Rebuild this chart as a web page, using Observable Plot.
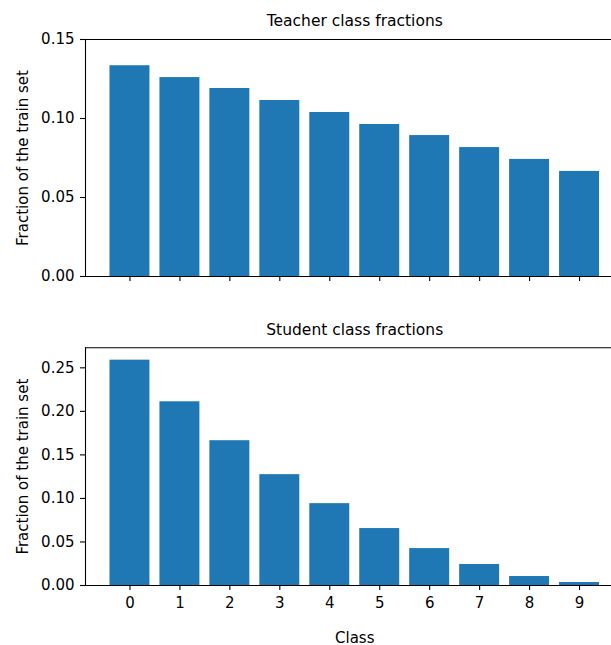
<!DOCTYPE html>
<html>
<head>
<meta charset="utf-8">
<script src="https://cdn.jsdelivr.net/npm/d3@7"></script>
<script src="https://cdn.jsdelivr.net/npm/@observablehq/plot@0.6"></script>
<style>
  html, body { margin: 0; padding: 0; background: #fff; overflow: hidden; }
  #wrap { position: relative; width: 611px; height: 645px; overflow: hidden; background: #fff; }
  #wrap svg { display: block; max-width: none !important; }
</style>
</head>
<body>
<div id="wrap"></div>
<script>
// ---- data ----
const classes = [0, 1, 2, 3, 4, 5, 6, 7, 8, 9];
const teacherFractions = [0.1334, 0.1259, 0.1190, 0.1114, 0.1038, 0.0962, 0.0892, 0.0816, 0.0741, 0.0665];
const studentFractions = [0.2588, 0.2110, 0.1663, 0.1273, 0.0940, 0.0654, 0.0424, 0.0241, 0.0103, 0.0034];
const teacherYTicks = [0, 0.05, 0.10, 0.15];
const studentYTicks = [0, 0.05, 0.10, 0.15, 0.20, 0.25];
const teacherTitle = "Teacher class fractions";
const studentTitle = "Student class fractions";
const yLabel = "Fraction of the train set";
const xLabel = "Class";

const barColor = "#1f77b4";
const font = "DejaVu Sans";
const style = { fontFamily: font, fontSize: "15px", color: "black", background: "white", overflow: "visible", maxWidth: "none" };
const xDomain = [-0.89, 9.89];

function panel({ values, yDomain, yTicks, title, showXLabels, height, marginTop, marginBottom, titleDy }) {
  const data = classes.map((c, i) => ({ c, v: values[i] }));
  const marks = [
    Plot.rectY(data, { x1: d => d.c - 0.4, x2: d => d.c + 0.4, y1: 0, y2: "v", fill: barColor }),
    // spines: bottom, top, left (the right spine lies outside the cropped picture)
    Plot.ruleY(yDomain, { stroke: "black", strokeWidth: 1.1 }),
    Plot.ruleX([xDomain[0]], { stroke: "black", strokeWidth: 1.1 }),
    Plot.axisX({
      ticks: classes, tickSize: 5, tickPadding: 7, label: null,
      tickFormat: showXLabels ? (d => String(d)) : (() => ""),
      stroke: "black", strokeWidth: 1.1, fill: "black"
    }),
    Plot.axisY({
      ticks: yTicks, tickSize: 5, tickPadding: 6, tickFormat: ".2f", label: null,
      stroke: "black", strokeWidth: 1.1, fill: "black"
    }),
    Plot.text([title], { text: d => d, frameAnchor: "top", dy: titleDy, lineAnchor: "bottom", fontSize: 15.5, fill: "black" }),
    Plot.text([yLabel], { text: d => d, frameAnchor: "left", rotate: -90, dx: -58, lineAnchor: "bottom", textAnchor: "middle", fontSize: 15, fill: "black" })
  ];
  if (showXLabels) {
    marks.push(Plot.text([xLabel], { text: d => d, frameAnchor: "bottom", dy: 57, lineAnchor: "bottom", fontSize: 15, fill: "black" }));
  }
  return Plot.plot({
    width: 624,
    height,
    marginLeft: 85,
    marginRight: 0.5,
    marginTop,
    marginBottom,
    style,
    x: { type: "linear", domain: xDomain },
    y: { domain: yDomain },
    marks
  });
}

const teacherChart = panel({
  values: teacherFractions, yDomain: [0, 0.15], yTicks: teacherYTicks, title: teacherTitle,
  showXLabels: false, height: 300, marginTop: 39, marginBottom: 24, titleDy: -14
});
const studentChart = panel({
  values: studentFractions, yDomain: [0, 0.2730], yTicks: studentYTicks, title: studentTitle,
  showXLabels: true, height: 345, marginTop: 47.3, marginBottom: 60, titleDy: -12.5
});
const wrap = document.getElementById("wrap");
wrap.appendChild(teacherChart);
wrap.appendChild(studentChart);
</script>
</body>
</html>
